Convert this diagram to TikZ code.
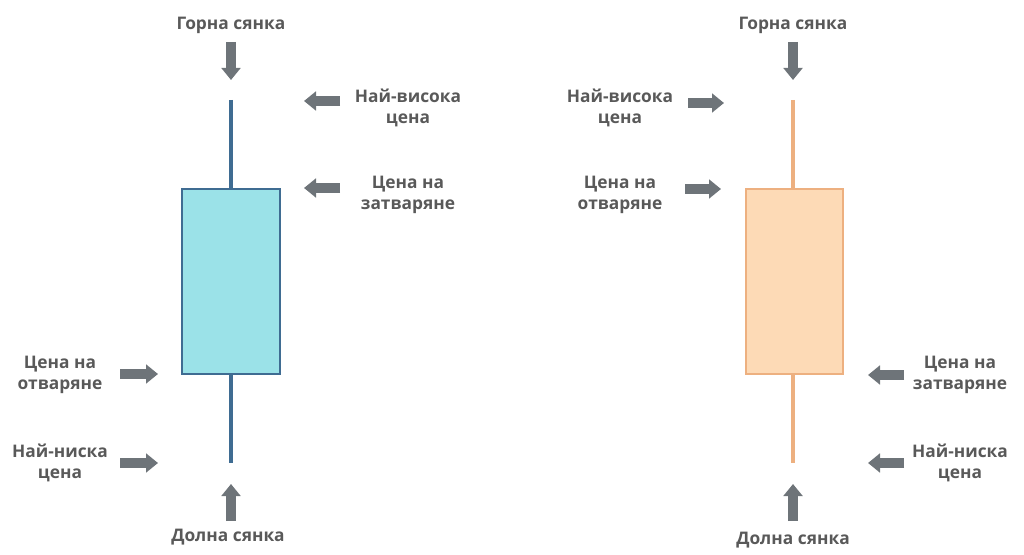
\documentclass[tikz,border=0pt]{standalone}
\usepackage{fontspec}
\setmainfont{Open Sans}
\usetikzlibrary{arrows.meta}
\definecolor{txtgray}{HTML}{595959}
\definecolor{arrgray}{HTML}{6E7479}
\definecolor{bluefill}{HTML}{9BE2E8}
\definecolor{blueline}{HTML}{3F6C92}
\definecolor{orfill}{HTML}{FDDAB6}
\definecolor{orline}{HTML}{EDB080}
\tikzset{
    lbl/.style = {align=center, font=\bfseries\fontsize{13}{16}\selectfont, text=txtgray},
    bigarrow/.style = {arrgray, line width=7pt, -{Triangle[width=14pt,length=9pt]}},
    wick/.style = {line width=3.6pt},
}
\begin{document}
\begin{tikzpicture}[x=0.75pt,y=-0.75pt]
\useasboundingbox (0,0) rectangle (1024,555);
% left candle
\draw[wick, blueline] (231,100) coordinate (lhigh) -- (231,463) coordinate (llow);
\draw[fill=bluefill, draw=blueline, line width=1.5pt] (182,189) rectangle (280,374);
\node[lbl] (ltop) at (231,25) {Горна сянка};
\node[lbl] (lhi) at (408,108) {Най-висока\\цена};
\node[lbl] (lcl) at (408,195) {Цена на\\затваряне};
\node[lbl] (lop) at (60,375) {Цена на\\отваряне};
\node[lbl] (llo) at (60,463) {Най-ниска\\цена};
\node[lbl] (lbot) at (228,537) {Долна сянка};
\draw[bigarrow] (231,42) -- (231,80);
\draw[bigarrow] (340,101) -- (304,101);
\draw[bigarrow] (340,188) -- (304,188);
\draw[bigarrow] (120,374) -- (158,374);
\draw[bigarrow] (120,463) -- (158,463);
\draw[bigarrow] (231,521) -- (231,484);
% right candle
\draw[wick, orline] (793,100) coordinate (rhigh) -- (793,463) coordinate (rlow);
\draw[fill=orfill, draw=orline, line width=1.5pt] (746,189) rectangle (843,374);
\node[lbl] (rtop) at (793,25) {Горна сянка};
\node[lbl] (rhi) at (620,108) {Най-висока\\цена};
\node[lbl] (rop) at (620,195) {Цена на\\отваряне};
\node[lbl] (rcl) at (960,375) {Цена на\\затваряне};
\node[lbl] (rlo) at (960,463) {Най-ниска\\цена};
\node[lbl] (rbot) at (793,540) {Долна сянка};
\draw[bigarrow] (793,42) -- (793,80);
\draw[bigarrow] (688,103) -- (724,103);
\draw[bigarrow] (685,189) -- (721,189);
\draw[bigarrow] (904,375) -- (868,375);
\draw[bigarrow] (904,463) -- (868,463);
\draw[bigarrow] (793,521) -- (793,484);
\end{tikzpicture}
\end{document}
